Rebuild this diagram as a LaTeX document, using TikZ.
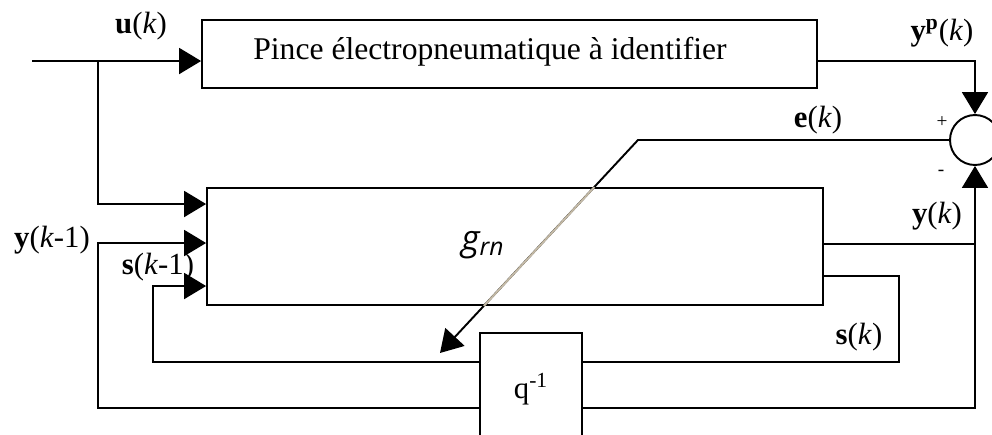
\documentclass[tikz,border=0pt]{standalone}
\usepackage{fontspec}
\setmainfont{Liberation Serif}
\newfontfamily\grnfont{Open Sans}
\usepackage{tikz}
\usetikzlibrary{arrows.meta,positioning,calc}
\definecolor{passwire}{RGB}{196,186,166}

\begin{document}
\begin{tikzpicture}[
    x=0.02cm, y=-0.02cm,
    font=\fontsize{17.5}{20}\selectfont,
    line width=1.1pt,
    block/.style={rectangle, draw, fill=white, inner sep=0pt},
    arrow/.style={-{Triangle[length=0.44cm,width=0.52cm]}},
    lbl/.style={inner sep=0pt}
]
\clip (0,0) rectangle (992,434);

% blocks
\node[block, minimum width=12.3cm, minimum height=1.36cm] (plant) at (509.5,54) {};
\node[lbl, font=\fontsize{18}{20}\selectfont] (plantlbl) at (490,52) {Pince électropneumatique à identifier};
\node[block, minimum width=12.32cm, minimum height=2.34cm] (net) at (515,246.5) {};
\node[block, minimum width=2.04cm, minimum height=2.24cm] (delay) at (531,389) {q\textsuperscript{-1}};
\node[circle, draw, minimum size=1cm, inner sep=0pt] (sum) at (975,140) {};

% corner points
\coordinate (in) at (32,61);
\coordinate (split) at (98,61);
\coordinate (ubr) at (98,204);
\coordinate (yk) at (975,244);
\coordinate (ybot) at (975,408);
\coordinate (yleft) at (98,408);
\coordinate (ytop) at (98,243);
\coordinate (sk) at (899,276);
\coordinate (sbot) at (899,362);
\coordinate (sleft) at (153,362);
\coordinate (stop) at (153,286);
\coordinate (ecorner) at (638,140);
\coordinate (etip) at (440,353);

% input u(k)
\draw (in) -- (split);
\draw[arrow] (split) -- (split -| plant.west);
\draw[arrow] (split) |- (net.west |- ubr);

% plant output
\draw[arrow] (split -| plant.east) -| (sum.north);

% y(k) loop
\draw (yk -| net.east) -- (yk);
\draw[arrow] (yk) -- (sum.south);
\draw (yk) -- (ybot) -- (ybot -| delay.east);
\draw[arrow] (ybot -| delay.west) -- (yleft) -- (ytop) -- (ytop -| net.west);

% s(k) loop
\draw (sk -| net.east) -- (sk) -- (sbot) -- (sbot -| delay.east);
\draw[arrow] (sbot -| delay.west) -- (sleft) -- (stop) -- (stop -| net.west);

% error e(k)
\draw[arrow] (sum.west) -- (ecorner) -- (etip);
\draw[passwire] (intersection of ecorner--etip and net.north west--net.north east)
    -- (intersection of ecorner--etip and net.south west--net.south east);

% labels
\node[lbl] (ulbl) at (141,26) {\textbf{u}(\textit{k})};
\node[lbl] (yplbl) at (942,33) {\textbf{y\textsuperscript{p}}(\textit{k})};
\node[lbl] (elbl) at (818,120) {\textbf{e}(\textit{k})};
\node[lbl, font=\fontsize{11}{12}\selectfont] (plus) at (942,122) {+};
\node[lbl, font=\fontsize{11}{12}\selectfont] (minus) at (941,173) {-};
\node[lbl] (yklbl) at (937,216) {\textbf{y}(\textit{k})};
\node[lbl] (sklbl) at (859,337) {\textbf{s}(\textit{k})};
\node[lbl] (yk1lbl) at (52,240) {\textbf{y}(\textit{k}-1)};
\node[lbl] (sk1lbl) at (158,267) {\textbf{s}(\textit{k}-1)};
\node[lbl, font=\fontsize{20}{22}\selectfont] (grnlbl) at (483,245) {\grnfont\itshape g\textsubscript{rn}};
\end{tikzpicture}
\end{document}
